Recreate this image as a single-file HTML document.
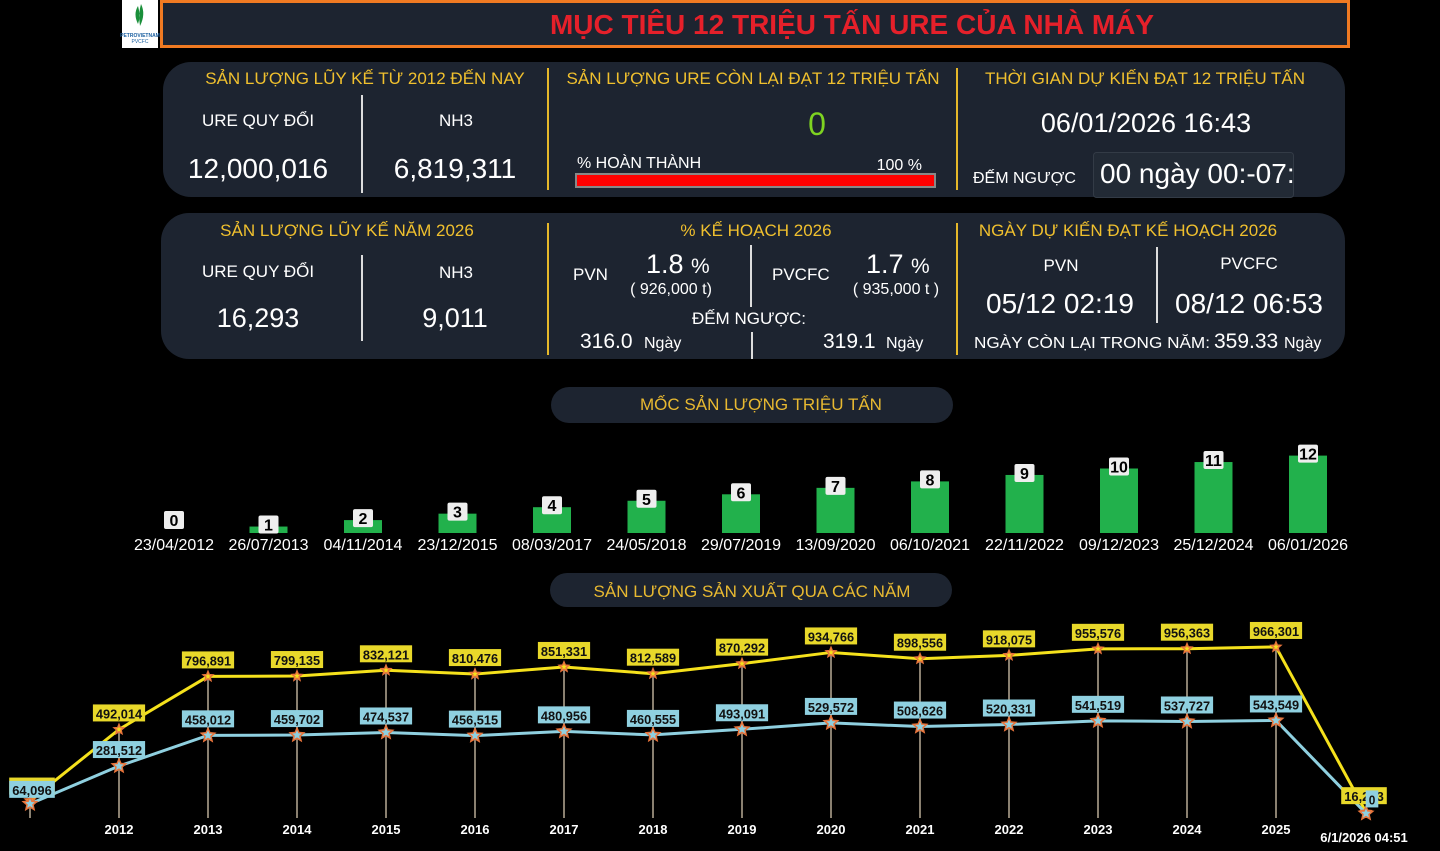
<!DOCTYPE html>
<html><head><meta charset="utf-8"><style>
html,body{margin:0;padding:0;background:#000;width:1440px;height:851px;overflow:hidden}
svg{display:block}
text{font-family:"Liberation Sans","Noto Sans CJK SC",sans-serif}
.h{fill:#f0c02e;font-size:17px}
.w{fill:#fff}
</style></head><body>
<svg width="1440" height="851" viewBox="0 0 1440 851" xmlns="http://www.w3.org/2000/svg">
<rect width="1440" height="851" fill="#000"/>
<rect x="122" y="0" width="36" height="48" fill="#fff"/>
<path d="M138 6 q-5 8 0 18 q3 -8 0 -18z M141 4 q5 10 -1 22 q-2 -12 1 -22z" fill="#1a8f3a"/>
<text x="140" y="37" font-size="5" fill="#1a5fa0" text-anchor="middle" font-weight="bold">PETROVIETNAM</text>
<text x="140" y="43" font-size="5" fill="#1a5fa0" text-anchor="middle">PVCFC</text>
<rect x="161.5" y="1.5" width="1187" height="45" fill="#1d2430" stroke="#f07a22" stroke-width="3"/>
<text x="852" y="34" text-anchor="middle" font-size="28" font-weight="bold" fill="#e5202a">MỤC TIÊU 12 TRIỆU TẤN URE CỦA NHÀ MÁY</text>

<rect x="163" y="62" width="1182" height="135" rx="28" fill="#1d2430"/>
<text class="h" x="365" y="84" text-anchor="middle">SẢN LƯỢNG LŨY KẾ TỪ 2012 ĐẾN NAY</text>
<text class="w" x="258" y="126" font-size="17" text-anchor="middle">URE QUY ĐỔI</text>
<text class="w" x="456" y="126" font-size="17" text-anchor="middle">NH3</text>
<text class="w" x="258" y="178" font-size="28" text-anchor="middle">12,000,016</text>
<text class="w" x="455" y="178" font-size="28" text-anchor="middle">6,819,311</text>
<rect x="361" y="95" width="2" height="98" fill="#ddd"/>
<rect x="547" y="68" width="2" height="122" fill="#e6b82a"/>
<rect x="956" y="68" width="2" height="122" fill="#e6b82a"/>
<text class="h" x="753" y="84" text-anchor="middle">SẢN LƯỢNG URE CÒN LẠI ĐẠT 12 TRIỆU TẤN</text>
<text x="817" y="135" font-size="32" text-anchor="middle" fill="#7ed321">0</text>
<text class="w" x="577" y="168" font-size="16">% HOÀN THÀNH</text>
<text class="w" x="922" y="170" font-size="16" text-anchor="end">100 %</text>
<rect x="575" y="173" width="361" height="15" fill="#888"/>
<rect x="577" y="175" width="357" height="11" fill="#f00"/>
<text class="h" x="1145" y="84" text-anchor="middle">THỜI GIAN DỰ KIẾN ĐẠT 12 TRIỆU TẤN</text>
<text class="w" x="1146" y="132" font-size="27" text-anchor="middle">06/01/2026 16:43</text>
<text class="w" x="973" y="183" font-size="16">ĐẾM NGƯỢC</text>
<rect x="1093.5" y="152.5" width="200" height="45" rx="3" fill="#222a35" stroke="#333b46"/>
<text class="w" x="1100" y="183" font-size="28">00 ngày 00:-07:</text>

<rect x="161" y="213" width="1184" height="146" rx="28" fill="#1d2430"/>
<text class="h" x="347" y="236" text-anchor="middle">SẢN LƯỢNG LŨY KẾ NĂM 2026</text>
<text class="w" x="258" y="277" font-size="17" text-anchor="middle">URE QUY ĐỔI</text>
<text class="w" x="456" y="278" font-size="17" text-anchor="middle">NH3</text>
<text class="w" x="258" y="327" font-size="27" text-anchor="middle">16,293</text>
<text class="w" x="455" y="327" font-size="27" text-anchor="middle">9,011</text>
<rect x="361" y="255" width="2" height="86" fill="#ddd"/>
<rect x="547" y="223" width="2" height="132" fill="#e6b82a"/>
<rect x="956" y="223" width="2" height="132" fill="#e6b82a"/>
<text class="h" x="756" y="236" text-anchor="middle">% KẾ HOẠCH 2026</text>
<text class="w" x="573" y="280" font-size="17">PVN</text>
<text class="w" x="646" y="273" font-size="27">1.8 <tspan font-size="21">%</tspan></text>
<text class="w" x="671" y="294" font-size="16" text-anchor="middle">( 926,000 t)</text>
<rect x="750" y="245" width="2" height="62" fill="#ddd"/>
<text class="w" x="772" y="280" font-size="17">PVCFC</text>
<text class="w" x="866" y="273" font-size="27">1.7 <tspan font-size="21">%</tspan></text>
<text class="w" x="896" y="294" font-size="16" text-anchor="middle">( 935,000 t )</text>
<text class="w" x="749" y="324" font-size="17" text-anchor="middle">ĐẾM NGƯỢC:</text>
<text class="w" x="580" y="348" font-size="21">316.0</text>
<text class="w" x="644" y="348" font-size="16">Ngày</text>
<rect x="751" y="332" width="2" height="27" fill="#ddd"/>
<text class="w" x="823" y="348" font-size="21">319.1</text>
<text class="w" x="886" y="348" font-size="16">Ngày</text>
<text class="h" x="1128" y="236" text-anchor="middle">NGÀY DỰ KIẾN ĐẠT KẾ HOẠCH 2026</text>
<text class="w" x="1061" y="271" font-size="17" text-anchor="middle">PVN</text>
<text class="w" x="1249" y="269" font-size="17" text-anchor="middle">PVCFC</text>
<rect x="1156" y="247" width="2" height="76" fill="#ddd"/>
<text class="w" x="1060" y="313" font-size="28" text-anchor="middle">05/12 02:19</text>
<text class="w" x="1249" y="313" font-size="28" text-anchor="middle">08/12 06:53</text>
<text class="w" x="974" y="348" font-size="16" textLength="236" lengthAdjust="spacingAndGlyphs">NGÀY CÒN LẠI TRONG NĂM:</text>
<text class="w" x="1214" y="348" font-size="21">359.33</text>
<text class="w" x="1284" y="348" font-size="16">Ngày</text>

<rect x="551" y="387" width="402" height="36" rx="18" fill="#1d2430"/>
<text x="761" y="410" font-size="17" text-anchor="middle" fill="#e8b931">MỐC SẢN LƯỢNG TRIỆU TẤN</text>
<g id="ms"></g>

<rect x="550" y="573" width="402" height="34" rx="17" fill="#1d2430"/>
<text x="752" y="597" font-size="17" text-anchor="middle" fill="#e8b931">SẢN LƯỢNG SẢN XUẤT QUA CÁC NĂM</text>
<g id="lc"></g>
</svg>
<script>
(function(){
var NS="http://www.w3.org/2000/svg";
function el(p,t,a,txt){var e=document.createElementNS(NS,t);for(var k in a)e.setAttribute(k,a[k]);if(txt!=null)e.textContent=txt;p.appendChild(e);return e;}
var ms=document.getElementById("ms");
var dates=["23/04/2012","26/07/2013","04/11/2014","23/12/2015","08/03/2017","24/05/2018","29/07/2019","13/09/2020","06/10/2021","22/11/2022","09/12/2023","25/12/2024","06/01/2026"];
for(var i=0;i<13;i++){
 var cx=174+i*94.5,h=i*6.45,bt=533-h;
 if(i>0)el(ms,"rect",{x:cx-19,y:bt,width:38,height:h,fill:"#22b14c"});
 var by=(i==0)?511:bt-11;
 el(ms,"rect",{x:cx-10,y:by,width:20,height:18,rx:2,fill:"#eee"});
 el(ms,"text",{x:cx,y:by+15,"font-size":16,"font-weight":"bold","text-anchor":"middle",fill:"#000"},String(i));
 el(ms,"text",{x:cx,y:550,"font-size":16,"text-anchor":"middle",fill:"#fff"},dates[i]);
}
var lc=document.getElementById("lc");
var Y=[83044,492014,796891,799135,832121,810476,851331,812589,870292,934766,898556,918075,955576,956363,966301,16293];
var B=[64096,281512,458012,459702,474537,456515,480956,460555,493091,529572,508626,520331,541519,537727,543549,9011];
function X(i){return i==0?30:(i==15?1366:119+(i-1)*89);}
function yv(v){return 815-v*0.0001739;}
function fmt(v){return v.toLocaleString("en-US");}
for(var i=0;i<16;i++){
 el(lc,"line",{x1:X(i),y1:yv(Y[i]),x2:X(i),y2:818,stroke:"#8a8070","stroke-width":2});
 if(i>=1&&i<=14)el(lc,"text",{x:X(i),y:834,"font-size":13,"font-weight":"bold","text-anchor":"middle",fill:"#fff"},String(2011+i));
}
el(lc,"text",{x:1364,y:842,"font-size":13,"font-weight":"bold","text-anchor":"middle",fill:"#fff"},"6/1/2026 04:51");
var py=[],pb=[];for(var i=0;i<16;i++){py.push(X(i)+","+yv(Y[i]));pb.push(X(i)+","+yv(B[i]));}
el(lc,"polyline",{points:py.join(" "),fill:"none",stroke:"#f5e11c","stroke-width":3});
el(lc,"polyline",{points:pb.join(" "),fill:"none",stroke:"#8fd0e0","stroke-width":3});
function star(cx,cy,r,fill){var p=[];for(var k=0;k<10;k++){var a=-Math.PI/2+k*Math.PI/5,rr=k%2?r*0.45:r;p.push((cx+rr*Math.cos(a)).toFixed(1)+","+(cy+rr*Math.sin(a)).toFixed(1));}
 el(lc,"polygon",{points:p.join(" "),fill:fill,stroke:"#e8743b","stroke-width":1.5});}
for(var i=0;i<16;i++){star(X(i),yv(Y[i]),5,"#f5e11c");star(X(i),yv(B[i]),7,"#8fd0e0");}
function lab(x,y,t,bg){var w=t.length*6.6+6;el(lc,"rect",{x:x-w/2,y:y-15,width:w,height:17,fill:bg});
 el(lc,"text",{x:x,y:y-1,"font-size":13,"font-weight":"bold","text-anchor":"middle",fill:"#111",textLength:w-6,lengthAdjust:"spacingAndGlyphs"},t);}
for(var i=0;i<16;i++){
 var x=X(i);
 if(i==0){lab(x+2,yv(Y[i])-8,fmt(Y[i]),"#e8d82a");lab(x+2,yv(B[i])-8,fmt(B[i]),"#8fd0e0");continue;}
 if(i==15){lab(x-2,yv(Y[i])-10,fmt(Y[i]),"#e8d82a");lab(x+6,yv(B[i])-8,"0","#8fd0e0");continue;}
 lab(x,yv(Y[i])-10,fmt(Y[i]),"#e8d82a");
 lab(x,yv(B[i])-10,fmt(B[i]),"#8fd0e0");
}
})();
</script>
</body></html>
